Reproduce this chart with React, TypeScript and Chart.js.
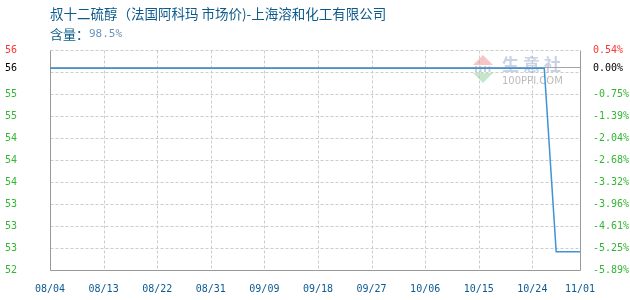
import { useEffect, useRef } from 'react';
import { Chart, registerables } from 'chart.js';

Chart.register(...registerables);

// Heading text
const TITLE = '叔十二硫醇（法国阿科玛 市场价)-上海溶和化工有限公司';
const SPEC_LABEL = '含量：';
const SPEC_VALUE = '98.5%';

// Daily categories: 08/04 .. 11/01
const FIRST_DAY = { month: 8, day: 4 };
const DAY_COUNT = 90;

// Quotes (price changes only; the line joins them)
const quoteDates = ['08/04', '10/26', '10/28', '11/01'];
const quotePrices = [56, 56, 53, 53];

// Dates that carry a tick label on the time axis
const xTickDates = ['08/04', '08/13', '08/22', '08/31', '09/09', '09/18', '09/27', '10/06', '10/15', '10/24', '11/01'];

const GRID_STEPS = 10;

const pad2 = (n: number) => String(n).padStart(2, '0');

function buildDays(): string[] {
  const out: string[] = [];
  const d = new Date(Date.UTC(2024, FIRST_DAY.month - 1, FIRST_DAY.day));
  for (let i = 0; i < DAY_COUNT; i++) {
    out.push(`${pad2(d.getUTCMonth() + 1)}/${pad2(d.getUTCDate())}`);
    d.setUTCDate(d.getUTCDate() + 1);
  }
  return out;
}

const TICK_FONT = { family: "'DejaVu Sans Mono', monospace", size: 10 };
const RED = '#ff3333';
const GREEN = '#33b633';
const BLACK = '#000000';
const AXIS_BLUE = '#0b5a92';

export default function App() {
  const canvasRef = useRef<HTMLCanvasElement | null>(null);

  useEffect(() => {
    const canvas = canvasRef.current;
    if (!canvas) return;

    const days = buildDays();
    const basePrice = quotePrices[0];
    const low = Math.min(...quotePrices);
    const high = Math.max(...quotePrices);
    const span = high - low;
    const yMax = high + span * 0.1;
    const yMin = low - span * 0.1;
    const step = (yMax - yMin) / GRID_STEPS;
    const gridValues = Array.from({ length: GRID_STEPS + 1 }, (_, i) => yMax - i * step);
    const labelValues = [gridValues[0], basePrice, ...gridValues.slice(2)];
    const xTickIdx = xTickDates.map((d) => days.indexOf(d));

    const isTop = (v: number) => Math.abs(v - yMax) < 1e-9;
    const isBase = (v: number) => Math.abs(v - basePrice) < 1e-9;
    const tickColor = (c: any) => {
      const v = c.tick ? c.tick.value : 0;
      if (isTop(v)) return RED;
      if (isBase(v)) return BLACK;
      return GREEN;
    };

    const decor = {
      id: 'decor',
      beforeDatasetsDraw(chart: any) {
        const { ctx, chartArea: a, scales } = chart;
        const ys = scales.y;
        const xs = scales.x;
        const L = Math.round(a.left) + 0.5;
        const R = Math.round(a.right) + 0.5;
        const T = Math.round(a.top) + 0.5;
        const B = Math.round(a.bottom) + 0.5;
        ctx.save();
        ctx.lineWidth = 1;

        // dashed grid
        ctx.strokeStyle = '#cccccc';
        ctx.setLineDash([3, 2]);
        ctx.beginPath();
        for (let i = 0; i < GRID_STEPS; i++) {
          const py = Math.round(ys.getPixelForValue(gridValues[i])) + 0.5;
          ctx.moveTo(L, py);
          ctx.lineTo(R, py);
        }
        xTickIdx.slice(1, -1).forEach((idx) => {
          const px = Math.round(xs.getPixelForValue(idx)) + 0.5;
          ctx.moveTo(px, T);
          ctx.lineTo(px, B);
        });
        ctx.stroke();
        ctx.setLineDash([]);

        // watermark
        const cx = 483;
        ctx.fillStyle = 'rgba(240,150,150,0.55)';
        ctx.beginPath();
        ctx.moveTo(cx, 55);
        ctx.lineTo(cx + 10, 65);
        ctx.lineTo(cx - 10, 65);
        ctx.closePath();
        ctx.fill();
        ctx.fillStyle = 'rgba(150,210,160,0.55)';
        ctx.beginPath();
        ctx.moveTo(cx - 10, 73);
        ctx.lineTo(cx + 10, 73);
        ctx.lineTo(cx, 83);
        ctx.closePath();
        ctx.fill();
        ctx.fillStyle = 'rgba(150,160,175,0.5)';
        for (let k = 0; k < 4; k++) ctx.fillRect(cx - 8 + k * 4.5, 66, 2, 6);
        ctx.fillStyle = 'rgba(150,165,205,0.5)';
        ctx.font = "bold 17px 'Noto Sans CJK SC'";
        ctx.textBaseline = 'middle';
        ctx.textAlign = 'left';
        ['生', '意', '社'].forEach((ch, i) => ctx.fillText(ch, 502 + i * 21, 65));
        ctx.fillStyle = 'rgba(170,170,170,0.8)';
        ctx.font = "10px 'DejaVu Sans'";
        ctx.fillText('100PPI.COM', 502, 81);

        // reference line at the opening price
        ctx.strokeStyle = '#a6a6a6';
        const by = Math.round(ys.getPixelForValue(basePrice)) - 0.5;
        ctx.beginPath();
        ctx.moveTo(L, by);
        ctx.lineTo(R, by);
        ctx.stroke();

        // frame: left, right, bottom
        ctx.strokeStyle = '#999999';
        ctx.beginPath();
        ctx.moveTo(L, T);
        ctx.lineTo(L, B);
        ctx.lineTo(R, B);
        ctx.lineTo(R, T);
        ctx.stroke();
        ctx.restore();
      },
      afterDraw(chart: any) {
        const { ctx } = chart;
        ctx.save();
        ctx.textBaseline = 'middle';
        ctx.textAlign = 'left';
        ctx.font = "13.5px 'Noto Sans CJK SC'";
        ctx.fillStyle = '#0d5b8c';
        ctx.fillText(TITLE, 50, 14);
        ctx.font = "13px 'Noto Sans CJK SC'";
        ctx.fillText(SPEC_LABEL, 50, 34);
        const w = ctx.measureText(SPEC_LABEL).width;
        ctx.fillStyle = '#6a93b8';
        ctx.font = "11px 'DejaVu Sans Mono'";
        ctx.fillText(SPEC_VALUE, 50 + w, 34);
        ctx.restore();
      },
    };

    const chart = new Chart(canvas, {
      type: 'line',
      data: {
        labels: days,
        datasets: [
          {
            data: quoteDates.map((d, i) => ({ x: d, y: quotePrices[i] })),
            borderColor: '#3d94d6',
            borderWidth: 1.5,
            pointRadius: 0,
            tension: 0,
            fill: false,
          },
        ],
      },
      options: {
        responsive: false,
        animation: false,
        events: [],
        layout: { padding: { left: 5, top: 50, right: 0, bottom: 0 } },
        plugins: { legend: { display: false }, tooltip: { enabled: false }, title: { display: false } },
        scales: {
          x: {
            type: 'category',
            grid: { display: false },
            border: { display: false },
            afterBuildTicks: (s: any) => {
              s.ticks = xTickIdx.map((v) => ({ value: v }));
            },
            afterFit: (s: any) => {
              s.height = 30;
            },
            ticks: {
              autoSkip: false,
              maxRotation: 0,
              minRotation: 0,
              padding: 5,
              color: AXIS_BLUE,
              font: TICK_FONT,
              callback: (v: any) => days[v as number],
            },
          },
          y: {
            position: 'left',
            min: yMin,
            max: yMax,
            grid: { display: false },
            border: { display: false },
            afterBuildTicks: (s: any) => {
              s.ticks = labelValues.map((v) => ({ value: v }));
            },
            afterFit: (s: any) => {
              s.width = 45;
            },
            ticks: {
              autoSkip: false,
              crossAlign: 'far',
              padding: 0,
              color: tickColor,
              font: TICK_FONT,
              callback: (v: any) => String(Math.floor(Number(v) + 1e-9)),
            },
          },
          y2: {
            position: 'right',
            min: yMin,
            max: yMax,
            grid: { display: false },
            border: { display: false },
            afterBuildTicks: (s: any) => {
              s.ticks = labelValues.map((v) => ({ value: v }));
            },
            afterFit: (s: any) => {
              s.width = 50;
            },
            ticks: {
              autoSkip: false,
              padding: 5,
              color: tickColor,
              font: TICK_FONT,
              callback: (v: any) => `${((Number(v) / basePrice - 1) * 100).toFixed(2)}%`,
            },
          },
        },
      },
      plugins: [decor],
    } as any);

    return () => chart.destroy();
  }, []);

  return (
    <div style={{ position: 'fixed', left: 0, top: 0, width: 630, height: 300, background: '#ffffff' }}>
      <canvas ref={canvasRef} width={630} height={300} style={{ display: 'block', width: 630, height: 300 }} />
    </div>
  );
}
